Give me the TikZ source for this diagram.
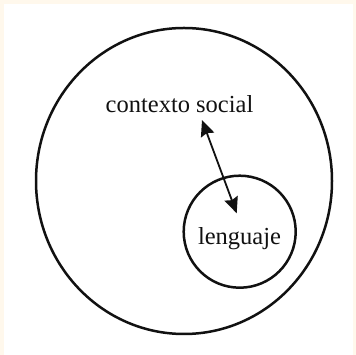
\documentclass[tikz,border=0pt]{standalone}
\usepackage{fontspec}
\setmainfont{Liberation Serif}
\usepackage{xcolor}
\usetikzlibrary{arrows.meta,positioning,shapes.geometric}
\definecolor{ink}{HTML}{111111}
\definecolor{paper}{HTML}{FFF8EC}
\tikzset{
  ring/.style={draw=ink, line width=2.5pt, inner sep=0pt},
  lbl/.style={font=\fontsize{24.5}{28}\selectfont, text=ink, inner sep=0pt},
  dbl/.style={{Stealth[length=16pt,width=14pt,inset=2pt]}-{Stealth[length=16pt,width=14pt,inset=2pt]},
              draw=ink, line width=1.8pt}
}

\begin{document}
\begin{tikzpicture}[x=1pt,y=1pt]
  % page and thin frame
  \fill[paper] (0,0) rectangle (356,355);
  \fill[white] (4,0) rectangle (353,351);
  \useasboundingbox (0,0) rectangle (356,355);

  \node[ring, ellipse, minimum width=296pt, minimum height=306pt] (world) at (184,174) {};
  \node[ring, circle, minimum size=112pt] (inner) at (239.7,123.3) {};

  \node[lbl, anchor=base] (ctx) at (179.5,242) {contexto social};
  \node[lbl, anchor=base] (leng) at (239.5,110.5) {lenguaje};

  % arrow ends
  \coordinate (up) at (202,235);
  \coordinate (down) at (236.7,141.7);
  \draw[dbl] (up) -- (down);
\end{tikzpicture}
\end{document}
